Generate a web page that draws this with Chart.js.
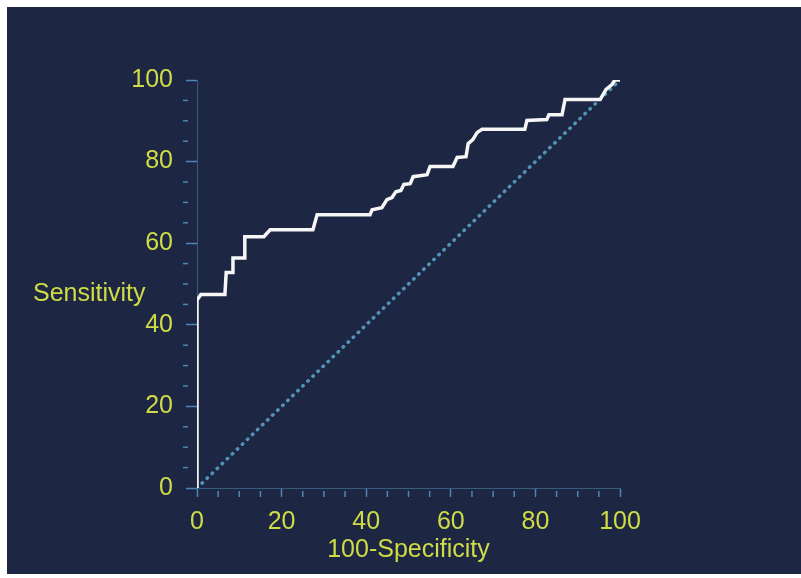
<!DOCTYPE html>
<html>
<head>
<meta charset="utf-8">
<script src="https://cdn.jsdelivr.net/npm/chart.js@4"></script>
<style>
  html, body { margin: 0; padding: 0; background: #fff; }
  #panel { position: absolute; left: 7px; top: 7px; width: 794px; height: 567px; background: #1d2642; }
  #wrap { position: absolute; left: 0; top: 0; width: 801px; height: 578px; }
</style>
</head>
<body>
<div id="panel"></div>
<div id="wrap"><canvas id="rocChart" width="801" height="578"></canvas></div>
<script>
// ROC curve corners (100-Specificity, Sensitivity)
var fpr  = [0, 0, 0.9, 6.6, 6.9, 8.5, 8.5, 11.3, 11.3, 15.8, 17.3, 27.4, 28.4, 40.9, 41.4, 43.7, 44.9, 46.1, 47.0, 48.2, 48.9, 50.4, 51.1, 54.4, 55.1, 60.5, 61.5, 63.6, 64.1, 65.2, 66.2, 67.4, 77.5, 78.0, 82.7, 83.2, 86.3, 87.0, 95.3, 96.7, 98.1, 98.8, 100];
var sens = [0, 46.1, 47.4, 47.4, 52.8, 52.8, 56.4, 56.4, 61.6, 61.6, 63.3, 63.3, 67.0, 67.0, 68.2, 68.7, 70.7, 71.2, 72.6, 72.9, 74.4, 74.6, 76.3, 76.8, 78.8, 78.8, 81.0, 81.2, 84.4, 85.4, 87.1, 87.9, 87.9, 90.1, 90.3, 91.5, 91.5, 95.2, 95.2, 97.7, 98.9, 100, 100];
var diagX = [0, 100];
var diagY = [0, 100];
var majorTicks = [0, 20, 40, 60, 80, 100];
var minorStep = 5;

var yellow = '#cfdc45';
var tickBlue = '#4f86b4';

var rocPoints = [];
for (var i = 0; i < fpr.length; i++) {
    rocPoints.push({x: fpr[i], y: sens[i]});
}
var diagPoints = [];
for (var j = 0; j < diagX.length; j++) {
    diagPoints.push({x: diagX[j], y: diagY[j]});
}

// short minor ticks every 5 units + the horizontal y title
var extras = {
    id: 'extras',
    afterDraw: function(chart) {
        var ctx = chart.ctx;
        var xs = chart.scales.x, ys = chart.scales.y;
        var area = chart.chartArea;
        ctx.save();
        ctx.strokeStyle = tickBlue;
        ctx.lineWidth = 1.5;
        for (var v = minorStep; v < 100; v += minorStep) {
            if (v % 20 === 0) continue;
            var px = xs.getPixelForValue(v);
            ctx.beginPath();
            ctx.moveTo(px, area.bottom + 3);
            ctx.lineTo(px, area.bottom + 9);
            ctx.stroke();
            var py = ys.getPixelForValue(v);
            ctx.beginPath();
            ctx.moveTo(area.left - 14, py);
            ctx.lineTo(area.left - 9, py);
            ctx.stroke();
        }
        ctx.fillStyle = yellow;
        ctx.font = '25px "Liberation Sans", Arial, sans-serif';
        ctx.textAlign = 'left';
        ctx.textBaseline = 'middle';
        ctx.fillText('Sensitivity', area.left - 164, ys.getPixelForValue(47.5));
        ctx.restore();
    }
};

var ctx = document.getElementById('rocChart').getContext('2d');
var rocChart = new Chart(ctx, {
    type: 'scatter',
    data: {
        datasets: [{
            label: 'ROC',
            data: rocPoints,
            showLine: true,
            borderColor: '#f6f6f6',
            borderWidth: 3.5,
            borderJoinStyle: 'miter',
            pointRadius: 0,
            tension: 0
        }, {
            label: 'Reference',
            data: diagPoints,
            showLine: true,
            borderColor: '#5393b8',
            borderWidth: 3.5,
            borderDash: [0.5, 6.5],
            borderCapStyle: 'round',
            pointRadius: 0
        }]
    },
    options: {
        responsive: false,
        animation: false,
        layout: { padding: { left: 117, right: 181, top: 80, bottom: 0 } },
        plugins: { legend: { display: false }, tooltip: { enabled: false } },
        scales: {
            x: {
                type: 'linear',
                min: 0,
                max: 100,
                afterBuildTicks: function(scale) {
                    scale.ticks = majorTicks.map(function(v) { return {value: v}; });
                },
                afterFit: function(scale) { scale.height = 90; },
                ticks: {
                    color: yellow,
                    padding: 10,
                    font: { family: '"Liberation Sans", Arial, sans-serif', size: 25 }
                },
                grid: { drawOnChartArea: false, tickLength: 9, tickColor: tickBlue, tickWidth: 1.5 },
                border: { display: true, color: 'rgba(79,134,180,0.55)', width: 1 },
                title: {
                    display: true,
                    text: '100-Specificity',
                    color: yellow,
                    padding: { top: 0, bottom: 13 },
                    font: { family: '"Liberation Sans", Arial, sans-serif', size: 25 }
                }
            },
            y: {
                type: 'linear',
                min: 0,
                max: 100,
                afterBuildTicks: function(scale) {
                    scale.ticks = majorTicks.map(function(v) { return {value: v}; });
                },
                afterFit: function(scale) { scale.width = 80; },
                ticks: {
                    color: yellow,
                    padding: 13,
                    font: { family: '"Liberation Sans", Arial, sans-serif', size: 25 }
                },
                grid: { drawOnChartArea: false, tickLength: 11, tickColor: tickBlue, tickWidth: 1.5 },
                border: { display: true, color: 'rgba(79,134,180,0.55)', width: 1 }
            }
        }
    },
    plugins: [extras]
});
</script>
</body>
</html>
